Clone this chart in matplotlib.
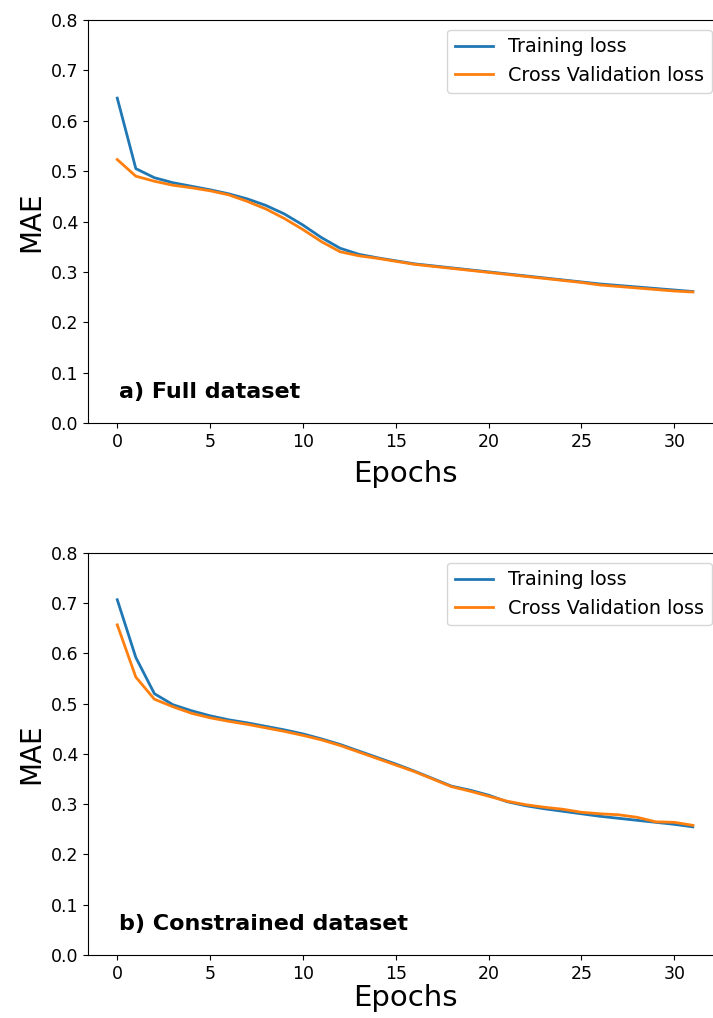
import numpy as np
import matplotlib
matplotlib.use("Agg")
import matplotlib.pyplot as plt

epochs = np.arange(32)

# a) full dataset
train_full = [0.645, 0.505, 0.487, 0.477, 0.470, 0.463, 0.455, 0.445, 0.432, 0.415,
              0.393, 0.368, 0.347, 0.335, 0.328, 0.322, 0.316, 0.312, 0.308, 0.304,
              0.300, 0.296, 0.292, 0.288, 0.284, 0.280, 0.276, 0.273, 0.270, 0.267,
              0.264, 0.261]
val_full = [0.523, 0.490, 0.480, 0.472, 0.467, 0.461, 0.453, 0.440, 0.425, 0.406,
            0.384, 0.360, 0.340, 0.332, 0.327, 0.321, 0.315, 0.311, 0.307, 0.303,
            0.299, 0.295, 0.291, 0.287, 0.283, 0.279, 0.274, 0.271, 0.268, 0.265,
            0.262, 0.260]

# b) constrained dataset
train_con = [0.707, 0.592, 0.520, 0.498, 0.486, 0.476, 0.468, 0.462, 0.455, 0.448,
             0.440, 0.430, 0.419, 0.406, 0.393, 0.380, 0.366, 0.351, 0.336, 0.328,
             0.318, 0.305, 0.297, 0.291, 0.286, 0.281, 0.276, 0.272, 0.268, 0.264,
             0.260, 0.255]
val_con = [0.657, 0.553, 0.509, 0.494, 0.481, 0.472, 0.465, 0.459, 0.452, 0.445,
           0.437, 0.428, 0.417, 0.404, 0.391, 0.378, 0.365, 0.350, 0.335, 0.326,
           0.316, 0.306, 0.299, 0.294, 0.290, 0.284, 0.281, 0.279, 0.274, 0.265,
           0.264, 0.258]

panels = [(train_full, val_full, "a) Full dataset", 7),
          (train_con, val_con, "b) Constrained dataset", 1)]

fig = plt.figure(figsize=(7.13, 10.18), dpi=100)
# axes run a little past the right edge of the figure (clipped, as in the original)
boxes = [[0.1241, 0.5845, 0.888, 0.3958], [0.1241, 0.0619, 0.888, 0.3949]]

for (tr, va, title, pad), box in zip(panels, boxes):
    ax = fig.add_axes(box)
    ax.plot(epochs, tr, color='C0', lw=2, label="Training loss")
    ax.plot(epochs, va, color='C1', lw=2, label="Cross Validation loss")
    ax.set_ylim(0, 0.8)
    ax.set_xticks([0, 5, 10, 15, 20, 25, 30])
    ax.set_ylabel("MAE", fontsize=20)
    ax.set_xlabel("Epochs", fontsize=21, labelpad=pad)
    ax.tick_params(axis='both', labelsize=12.5)
    ax.text(0.1, 0.05, title, fontsize=16, fontweight='bold')
    ax.legend(loc='upper right', fontsize=13.8)

plt.savefig("out.png", dpi=100)
